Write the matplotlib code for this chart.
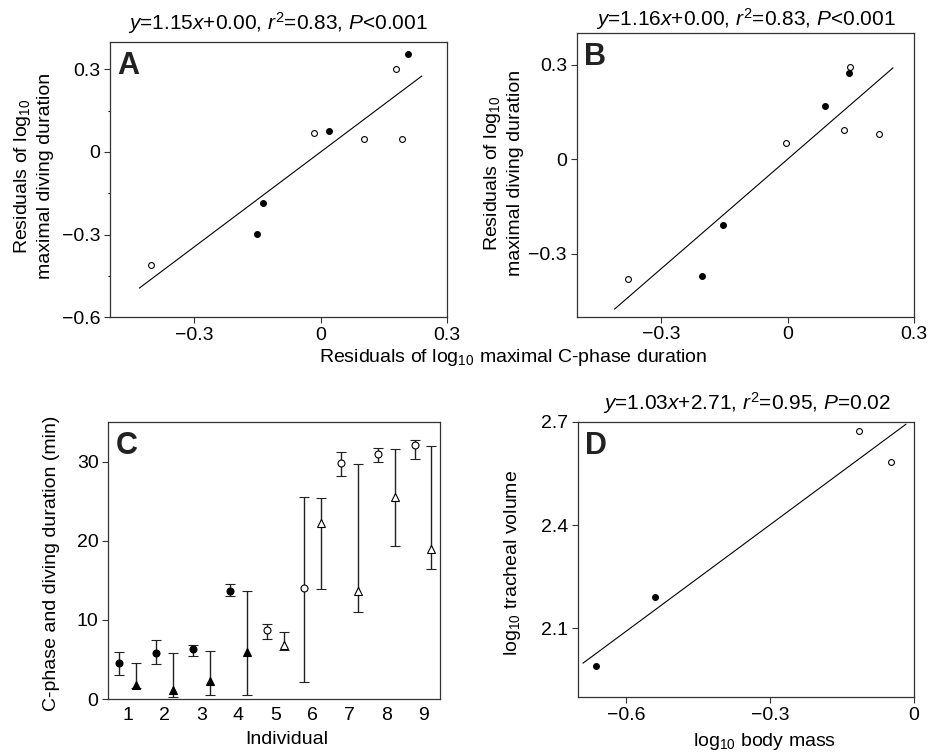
import numpy as np
import matplotlib
matplotlib.use('Agg')
import matplotlib.pyplot as plt
from matplotlib import rcParams

rcParams['font.family'] = ['Liberation Sans', 'DejaVu Sans']
rcParams['mathtext.fontset'] = 'custom'
rcParams['mathtext.rm'] = 'Liberation Sans'
rcParams['mathtext.it'] = 'Liberation Sans:italic'
rcParams['mathtext.bf'] = 'Liberation Sans:bold'
rcParams['axes.unicode_minus'] = True

# ── Panel A: residual regression ──
a_open_x = [-0.403, -0.016, 0.103, 0.192, 0.178]
a_open_y = [-0.411, 0.069, 0.047, 0.047, 0.301]
a_fill_x = [-0.152, -0.137, 0.021, 0.207]
a_fill_y = [-0.299, -0.185, 0.077, 0.357]
a_slope, a_icept = 1.15, 0.00
a_line_x = [-0.43, 0.24]

# ── Panel B ──
b_open_x = [-0.379, -0.003, 0.135, 0.149, 0.218]
b_open_y = [-0.379, 0.053, 0.092, 0.294, 0.081]
b_fill_x = [-0.202, -0.153, 0.089, 0.147]
b_fill_y = [-0.370, -0.208, 0.168, 0.274]
b_slope, b_icept = 1.16, 0.00
b_line_x = [-0.41, 0.25]

# ── Panel C: per-individual durations (mean, lower, upper) ──
individuals = [1, 2, 3, 4, 5, 6, 7, 8, 9]
circ_mean = [4.6, 5.8, 6.3, 13.7, 8.7, 14.0, 29.8, 31.0, 32.1]
circ_lo = [3.0, 4.4, 5.5, 13.0, 7.6, 2.2, 28.2, 30.0, 30.3]
circ_hi = [5.9, 7.4, 6.8, 14.5, 9.5, 25.6, 31.3, 31.8, 32.7]
tri_mean = [1.8, 1.1, 2.3, 5.9, 6.8, 22.2, 13.7, 25.6, 19.0]
tri_lo = [1.4, 0.2, 0.5, 0.5, 6.2, 13.9, 11.0, 19.3, 16.5]
tri_hi = [4.5, 5.8, 6.1, 13.7, 8.5, 25.4, 29.7, 31.6, 32.0]
filled_ind = [True, True, True, True, False, False, False, False, False]

# ── Panel D: body mass vs tracheal volume ──
d_fill_x = [-0.664, -0.540]
d_fill_y = [1.991, 2.192]
d_open_x = [-0.115, -0.047]
d_open_y = [2.674, 2.583]
d_slope, d_icept = 1.03, 2.71
d_line_x = [-0.69, -0.017]

W, H = 929, 753
fig = plt.figure(figsize=(W / 100, H / 100), dpi=100)


def box(l, t, r, b):
    return [l / W, 1 - b / H, (r - l) / W, (b - t) / H]


def style(ax):
    for s in ax.spines.values():
        s.set_linewidth(0.9)
        s.set_color('#333333')
    ax.tick_params(direction='out', length=4, width=0.8, color='#333333',
                   labelsize=14, pad=3)


def letter(ax, s):
    ax.annotate(s, xy=(0, 1), xycoords='axes fraction', xytext=(7, -9),
                textcoords='offset pixels', ha='left', va='top',
                fontsize=22, fontweight='bold', color='#222222')


def scatter_reg(ax, ox, oy, fx, fy, lx, slope, icept):
    lx = np.array(lx)
    ax.plot(lx, slope * lx + icept, color='black', lw=0.8)
    ax.plot(ox, oy, 'o', ms=4.2, mfc='white', mec='black', mew=0.8)
    ax.plot(fx, fy, 'o', ms=4.0, mfc='black', mec='black')


TITLE_FS = 15

# A
axA = fig.add_axes(box(110, 42, 447, 317))
scatter_reg(axA, a_open_x, a_open_y, a_fill_x, a_fill_y, a_line_x, a_slope, a_icept)
axA.set_xlim(-0.5, 0.3)
axA.set_ylim(-0.6, 0.4)
axA.set_xticks([-0.3, 0, 0.3])
axA.set_xticklabels(['\u22120.3', '0', '0.3'])
axA.set_yticks([-0.6, -0.3, 0, 0.3])
axA.set_yticklabels(['\u22120.6', '\u22120.3', '0', '0.3'])
axA.set_yticks([-0.45, -0.15, 0.15], minor=True)
style(axA)
axA.tick_params(which='minor', axis='y', length=1.5, width=0.8)
letter(axA, 'A')
fig.text(278 / W, 1 - 23 / H,
         r'$\it{y}$=1.15$\it{x}$+0.00, $\it{r}^2$=0.83, $\it{P}$<0.001',
         ha='center', va='center', fontsize=TITLE_FS)
fig.text(33 / W, 1 - 176 / H, 'Residuals of log$_{10}$\nmaximal diving duration',
         rotation=90, ha='center', va='center', fontsize=14, linespacing=1.35)

# B
axB = fig.add_axes(box(576.7, 33.3, 914, 316.7))
scatter_reg(axB, b_open_x, b_open_y, b_fill_x, b_fill_y, b_line_x, b_slope, b_icept)
axB.set_xlim(-0.5, 0.3)
axB.set_ylim(-0.5, 0.4)
axB.set_xticks([-0.3, 0, 0.3])
axB.set_xticklabels(['\u22120.3', '0', '0.3'])
axB.set_yticks([-0.3, 0, 0.3])
axB.set_yticklabels(['\u22120.3', '0', '0.3'])
style(axB)
letter(axB, 'B')
fig.text(746 / W, 1 - 19 / H,
         r'$\it{y}$=1.16$\it{x}$+0.00, $\it{r}^2$=0.83, $\it{P}$<0.001',
         ha='center', va='center', fontsize=TITLE_FS)
fig.text(503 / W, 1 - 173 / H, 'Residuals of log$_{10}$\nmaximal diving duration',
         rotation=90, ha='center', va='center', fontsize=14, linespacing=1.35)

fig.text(513 / W, 1 - 357 / H, 'Residuals of log$_{10}$ maximal C-phase duration',
         ha='center', va='center', fontsize=14)

# C
axC = fig.add_axes(box(108.3, 422.3, 440, 699))
ind = np.array(individuals, dtype=float)
for i in range(len(ind)):
    xc, xt = ind[i] - 0.22, ind[i] + 0.22
    fc = 'black' if filled_ind[i] else 'white'
    axC.errorbar(xc, circ_mean[i],
                 yerr=[[circ_mean[i] - circ_lo[i]], [circ_hi[i] - circ_mean[i]]],
                 fmt='o', ms=5, mfc=fc, mec='black', mew=0.8, ecolor='#222222',
                 elinewidth=1.0, capsize=3.5, capthick=1.0, color='black')
    axC.errorbar(xt, tri_mean[i],
                 yerr=[[tri_mean[i] - tri_lo[i]], [tri_hi[i] - tri_mean[i]]],
                 fmt='^', ms=6, mfc=fc, mec='black', mew=0.8, ecolor='#222222',
                 elinewidth=1.0, capsize=3.5, capthick=1.0, color='black')
axC.set_xlim(0.48, 9.45)
axC.set_ylim(0, 35)
axC.set_xticks(individuals)
axC.set_yticks([0, 10, 20, 30])
style(axC)
axC.tick_params(axis='x', length=0, pad=6)
letter(axC, 'C')
fig.text(52 / W, 1 - 563 / H, 'C-phase and diving duration (min)',
         rotation=90, ha='center', va='center', fontsize=14)
fig.text(287 / W, 1 - 740 / H, 'Individual', ha='center', va='center', fontsize=14)

# D
axD = fig.add_axes(box(578.3, 421.7, 914, 697.3))
scatter_reg(axD, d_open_x, d_open_y, d_fill_x, d_fill_y, d_line_x, d_slope, d_icept)
axD.set_xlim(-0.7, 0)
axD.set_ylim(1.9, 2.7)
axD.set_xticks([-0.6, -0.3, 0])
axD.set_xticklabels(['\u22120.6', '\u22120.3', '0'])
axD.set_yticks([2.1, 2.4, 2.7])
axD.set_yticklabels(['2.1', '2.4', '2.7'])
style(axD)
letter(axD, 'D')
fig.text(747 / W, 1 - 403 / H,
         r'$\it{y}$=1.03$\it{x}$+2.71, $\it{r}^2$=0.95, $\it{P}$=0.02',
         ha='center', va='center', fontsize=TITLE_FS)
fig.text(513 / W, 1 - 563 / H, 'log$_{10}$ tracheal volume',
         rotation=90, ha='center', va='center', fontsize=14)
fig.text(764 / W, 1 - 742 / H, 'log$_{10}$ body mass',
         ha='center', va='center', fontsize=14)

fig.savefig('out.png', dpi=100)
